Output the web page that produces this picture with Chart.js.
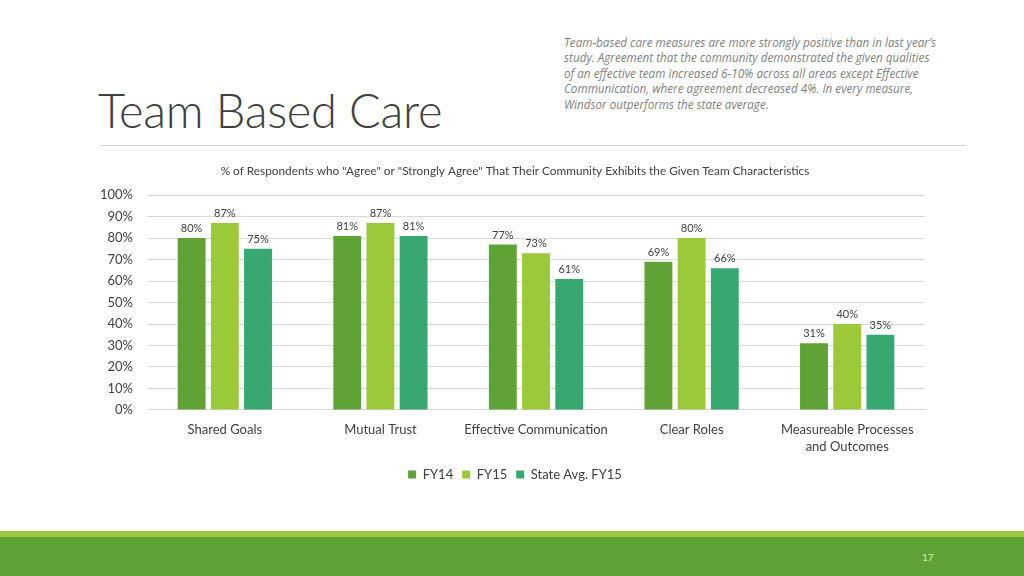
<!DOCTYPE html>
<html>
<head>
<meta charset="utf-8">
<script src="https://cdn.jsdelivr.net/npm/chart.js@4"></script>
<style>
  body { margin: 0; width: 1024px; height: 576px; position: relative; background: #fff; overflow: hidden; font-family: Lato, "Open Sans", sans-serif; }
  #title { position: absolute; left: 98px; top: 82px; font-size: 47px; font-weight: 300; color: #404040; letter-spacing: -0.3px; }
  #note { position: absolute; left: 564px; top: 35px; font-family: "Open Sans", sans-serif; font-size: 11.7px; line-height: 15.4px; font-style: italic; color: #7f7f7f; }
  #rule { position: absolute; left: 100px; top: 145px; width: 866px; height: 1px; background: #d0d0d0; }
  #wrap { position: absolute; left: 86px; top: 160px; width: 858px; height: 331px; }
  #band1 { position: absolute; left: 0; top: 531px; width: 1024px; height: 6px; background: #9dc63b; }
  #band2 { position: absolute; left: 0; top: 537px; width: 1024px; height: 39px; background: #5fa336; }
  #page { position: absolute; left: 922px; top: 551px; font-size: 10px; color: #d5ef9c; }
</style>
</head>
<body>
<div id="note">Team-based care measures are more strongly positive than in last year’s<br>study. Agreement that the community demonstrated the given qualities<br>of an effective team increased 6-10% across all areas except Effective<br>Communication, where agreement decreased 4%. In every measure,<br>Windsor outperforms the state average.</div>
<div id="title">Team Based Care</div>
<div id="rule"></div>
<div id="wrap"><canvas id="teamChart"></canvas></div>
<div id="band1"></div>
<div id="band2"></div>
<div id="page">17</div>
<script>
// Chart values
const categories = ['Shared Goals', 'Mutual Trust', 'Effective Communication', 'Clear Roles', ['Measureable Processes', 'and Outcomes']];
const fy14 = [80, 81, 77, 69, 31];
const fy15 = [87, 87, 73, 80, 40];
const stateAvg = [75, 81, 61, 66, 35];
const seriesNames = ['FY14', 'FY15', 'State Avg. FY15'];
const yTicks = [0, 10, 20, 30, 40, 50, 60, 70, 80, 90, 100];

const colors = ['#5fa336', '#9bc93a', '#36a870'];
const font = 'Lato, "Open Sans", sans-serif';

// Draw the % labels above each bar
const barLabels = {
  id: 'barLabels',
  afterDatasetsDraw(chart) {
    const ctx = chart.ctx;
    ctx.save();
    ctx.font = '11px ' + font;
    ctx.fillStyle = '#404040';
    ctx.textAlign = 'center';
    ctx.textBaseline = 'bottom';
    chart.data.datasets.forEach((ds, i) => {
      chart.getDatasetMeta(i).data.forEach((bar, j) => {
        ctx.fillText(ds.data[j] + '%', bar.x, bar.y - 4);
      });
    });
    ctx.restore();
  }
};

const chart = new Chart(document.getElementById('teamChart'), {
  type: 'bar',
  data: {
    labels: categories,
    datasets: [fy14, fy15, stateAvg].map((d, i) => ({
      label: seriesNames[i],
      data: d,
      backgroundColor: colors[i],
      categoryPercentage: 0.64,
      barPercentage: 0.84
    }))
  },
  options: {
    responsive: true,
    maintainAspectRatio: false,
    animation: false,
    plugins: {
      title: {
        display: true,
        text: '% of Respondents who "Agree" or "Strongly Agree" That Their Community Exhibits the Given Team Characteristics',
        color: '#404040',
        font: { size: 11.8, family: font, weight: 'normal' },
        padding: { top: 4, bottom: 17 }
      },
      legend: {
        position: 'bottom',
        labels: {
          boxWidth: 8, boxHeight: 8, color: '#404040', padding: 9,
          font: { size: 13, family: font }
        }
      },
      tooltip: { enabled: false }
    },
    scales: {
      x: {
        grid: { display: false },
        border: { color: '#d9d9d9' },
        ticks: { color: '#404040', font: { size: 13, family: font, lineHeight: 1.35 }, maxRotation: 0, autoSkip: false }
      },
      y: {
        min: yTicks[0], max: yTicks[yTicks.length - 1],
        afterBuildTicks: axis => { axis.ticks = yTicks.map(v => ({ value: v })); },
        grid: { color: '#d9d9d9', drawTicks: false },
        border: { display: false },
        ticks: { color: '#404040', padding: 14, font: { size: 13, family: font }, callback: v => v + '%' }
      },
      // empty spacer on the right so title and legend sit where the original has them
      spacer: {
        type: 'linear',
        position: 'right',
        grid: { display: false },
        border: { display: false },
        ticks: { display: false },
        afterFit: axis => { axis.width = 19; }
      }
    }
  },
  plugins: [barLabels]
});
</script>
</body>
</html>
